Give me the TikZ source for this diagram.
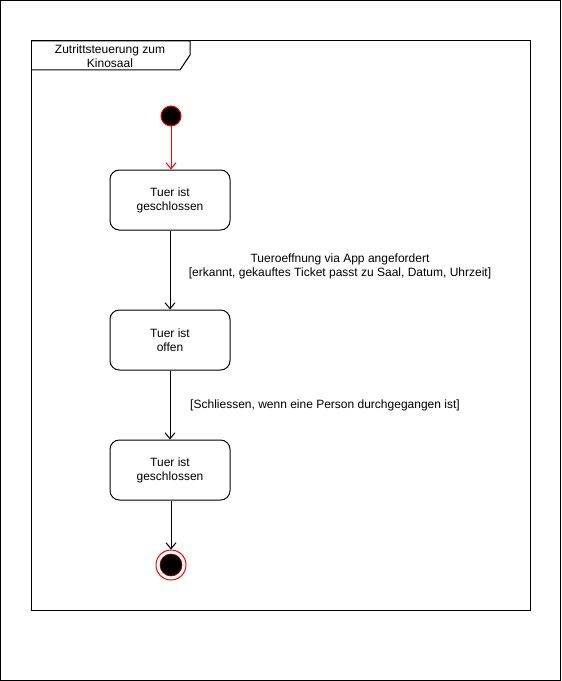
\documentclass[tikz,border=0pt]{standalone}
\usepackage{fontspec}
\setmainfont{Liberation Sans}
\usetikzlibrary{arrows.meta}
\begin{document}
\begin{tikzpicture}[x=0.75pt,y=-0.75pt,
  every node/.style={font=\fontsize{9}{10.5}\selectfont, inner sep=0pt},
  statebox/.style={draw, line width=0.75pt, rounded corners=7pt, minimum width=90pt, minimum height=45pt, align=center},
  initnode/.style={circle, fill=black, draw=red, line width=0.75pt, minimum size=15pt},
  finouter/.style={circle, draw=red, fill=white, line width=0.75pt, minimum size=22.5pt},
  fininner/.style={circle, fill=black, draw=red!60!black, line width=0.5pt, minimum size=16.5pt},
  flow/.style={line width=0.75pt, -{Straight Barb[length=4.5pt, width=7.5pt, line width=0.75pt]}},
  lbl/.style={align=center}
]
\useasboundingbox (0,0) rectangle (561,681);
\draw[line width=0.75pt] (0.5,0.5) rectangle (560.5,680.5);
% frame
\draw[line width=0.75pt] (31,41) rectangle (530,610);
\draw[line width=0.75pt] (31,41) -- (190,41) -- (190,55) -- (180,70) -- (31,70);
\node[lbl] (title) at (110,56) {Zutrittsteuerung zum\\Kinosaal};
% nodes
\node[initnode] (init) at (171,116) {};
\node[statebox] (s1) at (170,200) {Tuer ist\\geschlossen};
\node[statebox] (s2) at (170,340) {Tuer ist\\offen};
\node[statebox] (s3) at (170,470) {Tuer ist\\geschlossen};
\node[finouter] (fin) at (171,565) {};
\node[fininner] (fincore) at (fin) {};
% edges
\draw[flow, red] (init) -- (init |- s1.north);
\draw[flow] (s1) -- (s2);
\draw[flow] (s2) -- (s3);
\draw[flow] (s3.south -| fin) -- (fin);
% labels
\node[lbl] (l1) at (340,266) {Tueroeffnung via App angefordert\\{}[erkannt, gekauftes Ticket passt zu Saal, Datum, Uhrzeit]};
\node[lbl] (l2) at (325,405) {[Schliessen, wenn eine Person durchgegangen ist]};
\end{tikzpicture}
\end{document}
